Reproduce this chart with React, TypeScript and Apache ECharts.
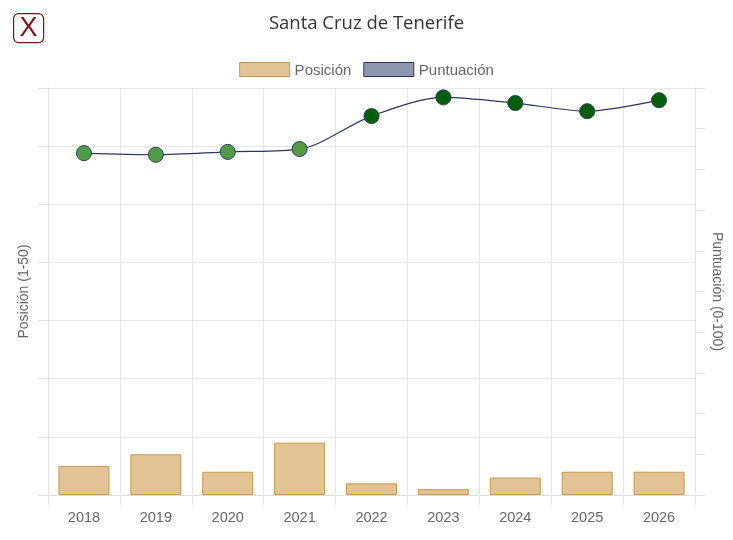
import React, { useEffect, useRef } from "react";
import * as echarts from "echarts";

const years = ["2018", "2019", "2020", "2021", "2022", "2023", "2024", "2025", "2026"];
const posicion = [5, 7, 4, 9, 2, 1, 3, 4, 4];
const puntuacion = [84.0, 83.6, 84.3, 85.0, 93.1, 97.7, 96.3, 94.3, 97.0];

export default function App() {
  const ref = useRef<HTMLDivElement>(null);
  useEffect(() => {
    if (!ref.current) return;
    const chart = echarts.init(ref.current, null, { renderer: "svg" });
    const font = "'Liberation Sans', Arial, sans-serif";
    chart.setOption({
      animation: false,
      textStyle: { fontFamily: font },
      title: {
        text: "Santa Cruz de Tenerife",
        left: "center",
        top: 7,
        textStyle: { fontFamily: "'Open Sans', sans-serif", fontSize: 18.5, fontWeight: 500, color: "#333" },
      },
      legend: {
        top: 57,
        left: "center",
        itemWidth: 50,
        itemHeight: 14,
        itemGap: 12,
        textStyle: { color: "#666", fontSize: 15, fontFamily: font },
        data: [
          { name: "Posición", icon: "rect", itemStyle: { color: "#e2c393", borderColor: "#c8994d", borderWidth: 1 } },
          { name: "Puntuación", icon: "rect", itemStyle: { color: "#8e96ae", borderColor: "#2d3561", borderWidth: 1 } },
        ],
      },
      graphic: [
        {
          type: "rect",
          left: 13,
          top: 13,
          shape: { width: 30, height: 29, r: 5 },
          style: { fill: "#fff", stroke: "#7b1414", lineWidth: 1.2 },
        },
        {
          type: "text",
          left: 19.5,
          top: 13,
          style: { text: "X", fill: "#7b1414", fontSize: 27, fontFamily: font },
        },
      ],
      grid: { left: 48, right: 37, top: 88, bottom: 45, containLabel: false },
      xAxis: {
        type: "category",
        data: years,
        axisLine: { lineStyle: { color: "#ddd" } },
        axisTick: { show: true, alignWithLabel: false, length: 10, lineStyle: { color: "#e6e6e6" } },
        splitLine: { show: true, lineStyle: { color: "#e6e6e6" } },
        axisLabel: { color: "#666", fontSize: 14.5, margin: 14, fontFamily: font },
      },
      yAxis: [
        {
          type: "value",
          min: 0,
          max: 70,
          interval: 10,
          name: "Posición (1-50)",
          nameLocation: "middle",
          nameGap: 18,
          nameTextStyle: { color: "#666", fontSize: 14, fontFamily: font },
          axisLabel: { show: false },
          axisLine: { show: true, lineStyle: { color: "#e0e0e0" } },
          axisTick: { show: true, length: 10, lineStyle: { color: "#e0e0e0" } },
          splitLine: { show: true, lineStyle: { color: "#e6e6e6" } },
        },
        {
          type: "value",
          min: 0,
          max: 100,
          interval: 10,
          position: "right",
          name: "Puntuación (0-100)",
          nameLocation: "middle",
          nameRotate: -90,
          nameGap: 16,
          nameTextStyle: { color: "#666", fontSize: 14, fontFamily: font },
          axisLabel: { show: false },
          axisLine: { show: true, lineStyle: { color: "#e0e0e0" } },
          axisTick: { show: true, length: 10, lineStyle: { color: "#e0e0e0" } },
          splitLine: { show: false },
        },
      ],
      series: [
        {
          name: "Posición",
          type: "bar",
          yAxisIndex: 0,
          data: posicion,
          barWidth: "71%",
          itemStyle: { color: "#e2c393", borderColor: "#c8994d", borderWidth: 1 },
        },
        {
          name: "Puntuación",
          type: "line",
          yAxisIndex: 1,
          data: puntuacion.map((v) => ({
            value: v,
            itemStyle: { color: v >= 90 ? "#055e0c" : "#4f9c45", borderColor: "#2a3d5a", borderWidth: 1 },
          })),
          smooth: 0.3,
          symbol: "circle",
          symbolSize: 15,
          lineStyle: { color: "#2d3561", width: 1.2 },
          itemStyle: { color: "#4f9c45", borderColor: "#2a3d5a", borderWidth: 1 },
          z: 5,
        },
      ],
    });
    return () => chart.dispose();
  }, []);
  return <div ref={ref} style={{ position: "fixed", left: 0, top: 0, width: 733, height: 540 }} />;
}
